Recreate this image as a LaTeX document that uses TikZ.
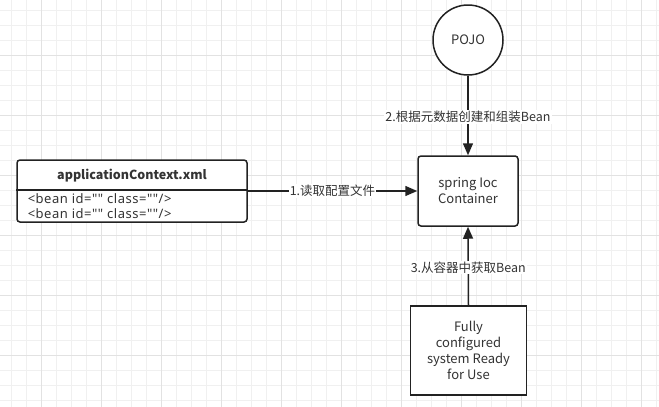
\documentclass[tikz,border=0pt]{standalone}
\usepackage{fontspec}
\setmainfont{Noto Sans CJK SC}
\newfontfamily\latinfont[LetterSpace=4]{Noto Sans}
\usetikzlibrary{arrows.meta}
\definecolor{gridminor}{HTML}{F0F0F0}
\definecolor{gridmajor}{HTML}{E2E2E2}
\definecolor{ink}{HTML}{333333}
\definecolor{edge}{HTML}{222222}

\begin{document}
\begin{tikzpicture}[x=1pt, y=-1pt, line width=1.5pt,
    box/.style={draw=edge, fill=white, inner sep=0pt, align=center, text=ink,
                font=\fontsize{13}{16}\selectfont},
    lab/.style={fill=white, inner sep=1pt, text=ink, font=\fontsize{12.5}{15}\selectfont},
    arr/.style={draw=edge, -{Triangle[length=12pt,width=10pt]}}]
    \useasboundingbox (0,0) rectangle (659,407);
    \fill[white] (0,0) rectangle (659,407);
    % grid
    \foreach \x in {11,26,...,656} \draw[gridminor, line width=1pt] (\x,0) -- (\x,407);
    \foreach \y in {10,25,...,400} \draw[gridminor, line width=1pt] (0,\y) -- (659,\y);
    \foreach \x in {41,101,...,641} \draw[gridmajor, line width=1pt] (\x,0) -- (\x,407);
    \foreach \y in {55,115,...,355} \draw[gridmajor, line width=1pt] (0,\y) -- (659,\y);

    \node[box, circle, minimum size=70pt] (pojo) at (468,40) {POJO};
    \node[box, rounded corners=3pt, minimum width=100pt, minimum height=70pt] (ioc) at (468,191) {spring Ioc\\Container};
    \node[box, minimum width=116pt, minimum height=89pt] (ready) at (468.5,350.5) {Fully\\configured\\system Ready\\for Use};

    \node[box, rounded corners=3pt, minimum width=230pt, minimum height=62pt] (ctx) at (132,191) {};
    \draw[edge] ([yshift=1pt]ctx.west) -- ([yshift=1pt]ctx.east);
    \node[text=ink, font=\fontsize{12.5}{15}\selectfont\bfseries] (ctxhead) at (132,175.5) {applicationContext.xml};
    \node[anchor=west, text=ink, inner sep=0pt, font=\fontsize{13}{15}\latinfont] (bean1) at (27,199) {<bean id="" class=""/>};
    \node[anchor=west, text=ink, inner sep=0pt, font=\fontsize{13}{15}\latinfont] (bean2) at (27,214) {<bean id="" class=""/>};

    \draw[arr] (ctx.east) -- node[lab] {1.读取配置文件} (ioc.west);
    \draw[arr] (pojo.south) -- node[lab, pos=0.52] {2.根据元数据创建和组装Bean} (ioc.north);
    \draw[arr] (ready.north) -- node[lab, pos=0.48] {3.从容器中获取Bean} (ioc.south);
\end{tikzpicture}
\end{document}
